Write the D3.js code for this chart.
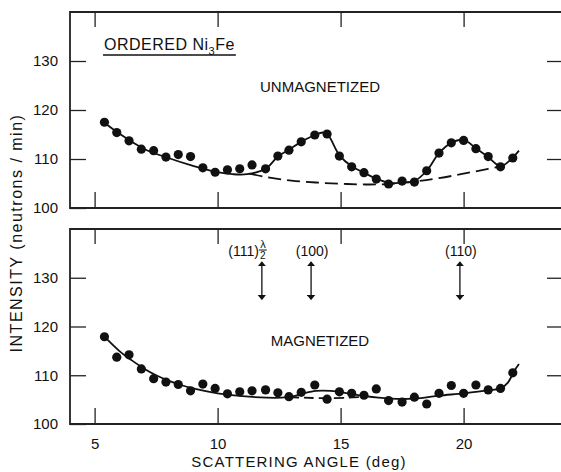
<!DOCTYPE html>
<html>
<head>
<meta charset="utf-8">
<script src="https://cdn.jsdelivr.net/npm/d3@7"></script>
<style>
  body { margin: 0; background: #fff; }
  svg { display: block; font-family: "Liberation Sans", Arial, sans-serif; }
  .tick line { stroke: #222; stroke-width: 1.3; }
  .tick text { font-size: 15px; fill: #111; }
</style>
</head>
<body>
<div class="chart"></div>
<script>
// scattering angle (deg) of each measured point
const angle = [5.4, 5.9, 6.4, 6.9, 7.4, 7.9, 8.4, 8.9, 9.4, 9.9, 10.4, 10.9, 11.4, 11.95,
  12.45, 12.9, 13.4, 13.95, 14.45, 14.95, 15.45, 15.95, 16.45, 16.95, 17.5, 18.0, 18.5,
  19.0, 19.5, 20.0, 20.5, 21.0, 21.5, 22.0];

// intensity (neutrons / min)
const unmagnetized = [117.5, 115.4, 113.7, 112.0, 111.7, 110.4, 110.9, 110.5, 108.2, 107.3,
  107.8, 108.0, 108.8, 108.0, 110.6, 111.8, 113.5, 114.9, 115.1, 110.6, 108.4, 107.2, 105.9,
  104.9, 105.5, 105.3, 107.6, 111.2, 113.3, 113.8, 112.1, 110.5, 108.4, 110.2];
const magnetized = [117.9, 113.7, 114.2, 111.3, 109.3, 108.6, 108.1, 106.8, 108.2, 107.3,
  106.2, 106.6, 106.8, 107.0, 106.4, 105.6, 106.5, 108.0, 105.1, 106.6, 106.3, 105.9, 107.2,
  104.8, 104.5, 105.5, 104.1, 106.3, 107.9, 106.3, 108.0, 107.0, 107.3, 110.5];

// hand drawn curves: [angle, intensity]
const topFit = [[5.4, 117.4], [6.0, 115.2], [7.0, 112.1], [8.0, 110.2], [9.0, 108.6], [10.0, 107.3],
  [10.6, 106.9], [11.2, 106.9], [11.95, 108.0], [12.45, 110.5], [12.9, 111.9], [13.4, 113.5],
  [13.95, 114.9], [14.3, 115.4], [14.5, 114.8], [14.95, 110.8], [15.45, 108.5], [15.95, 107.2],
  [16.45, 106.0], [17.0, 105.1], [17.5, 105.2], [18.0, 105.5], [18.5, 107.6], [19.0, 111.2],
  [19.5, 113.3], [20.0, 113.9], [20.5, 112.2], [21.0, 110.4], [21.5, 108.5], [21.9, 109.8],
  [22.25, 111.7]];
const topBackground = [[11.3, 107.0], [12.0, 106.3], [13.0, 105.6], [14.0, 105.2], [15.0, 104.95],
  [16.0, 104.8], [17.0, 104.9], [18.0, 105.4], [19.0, 106.1], [20.0, 107.0], [21.0, 108.0],
  [21.5, 108.5]];
const bottomFit = [[5.4, 117.9], [6.0, 115.0], [6.5, 113.1], [7.0, 111.4], [7.5, 110.0], [8.0, 108.9],
  [8.5, 108.0], [9.0, 107.3], [10.0, 106.3], [11.0, 105.7], [12.0, 105.4], [12.6, 105.4],
  [13.0, 105.6], [13.5, 106.3], [14.0, 106.8], [14.6, 106.8], [15.3, 106.3], [16.0, 105.7],
  [17.0, 105.2], [18.0, 105.2], [19.0, 105.8], [20.0, 106.3], [21.0, 106.9], [21.5, 107.3],
  [21.8, 108.5], [22.05, 110.8], [22.25, 112.3]];
const bottomLower = [[12.9, 105.5], [13.5, 105.4], [14.3, 105.3], [15.3, 105.4], [16.0, 105.6]];

// reflection markers
const peakAngle = [11.8, 13.8, 19.85];
const peakLabel = ["(111)", "(100)", "(110)"];

const xTicks = [5, 10, 15, 20];
const yTicks = [100, 110, 120, 130];

const W = 561, H = 472;
const left = 70, right = 562;

const svg = d3.select('.chart')
  .append('svg')
  .attr('width', W)
  .attr('height', H);

const x = d3.scaleLinear().domain([4, 24]).range([left, right]);

const panels = [
  {top: 12, bottom: 208, values: unmagnetized, name: 'UNMAGNETIZED', nameY: 92},
  {top: 229, bottom: 424, values: magnetized, name: 'MAGNETIZED', nameY: 346}
];

panels.forEach(p => {
  p.y = d3.scaleLinear().domain([100, 140]).range([p.bottom, p.top]);
  const g = svg.append('g');

  // frame (right side sits off the page)
  g.append('path')
    .attr('d', 'M' + right + ',' + p.top + 'H' + left + 'V' + p.bottom + 'H' + right)
    .attr('fill', 'none')
    .attr('stroke', '#222')
    .attr('stroke-width', 1.8);

  g.append('g')
    .attr('transform', 'translate(0,' + p.bottom + ')')
    .call(d3.axisBottom(x).tickValues(xTicks).tickSize(-16).tickFormat(''))
    .call(a => a.select('.domain').remove());
  g.append('g')
    .attr('transform', 'translate(0,' + p.top + ')')
    .call(d3.axisTop(x).tickValues(xTicks).tickSize(-15).tickFormat(''))
    .call(a => a.select('.domain').remove());
  g.append('g')
    .attr('transform', 'translate(' + left + ',0)')
    .call(d3.axisLeft(p.y).tickValues(yTicks).tickSize(-16).tickPadding(12))
    .call(a => a.select('.domain').remove());
  g.append('g')
    .attr('transform', 'translate(' + (W) + ',0)')
    .call(d3.axisRight(p.y).tickValues(yTicks.slice(1)).tickSize(-14).tickFormat(''))
    .call(a => a.select('.domain').remove());

  g.append('text')
    .attr('x', 320)
    .attr('y', p.nameY)
    .attr('text-anchor', 'middle')
    .attr('font-size', 15)
    .attr('fill', '#111')
    .text(p.name);

  g.selectAll('circle')
    .data(angle.map((a, i) => [a, p.values[i]]))
    .enter()
    .append('circle')
    .attr('cx', d => x(d[0]))
    .attr('cy', d => p.y(d[1]))
    .attr('r', 4.6)
    .attr('fill', '#111');
});

function curve(g, pts, yScale, dash) {
  const line = d3.line()
    .x(d => x(d[0]))
    .y(d => yScale(d[1]))
    .curve(d3.curveCatmullRom);
  g.append('path')
    .attr('d', line(pts))
    .attr('fill', 'none')
    .attr('stroke', '#111')
    .attr('stroke-width', 1.8)
    .attr('stroke-dasharray', dash);
}

curve(svg, topFit, panels[0].y, null);
curve(svg, topBackground, panels[0].y, '13,6');
curve(svg, bottomFit, panels[1].y, null);
curve(svg, bottomLower, panels[1].y, '10,5');

// x tick labels under the lower panel
svg.append('g')
  .attr('transform', 'translate(0,' + panels[1].bottom + ')')
  .call(d3.axisBottom(x).tickValues(xTicks).tickSize(0).tickPadding(14))
  .call(a => a.select('.domain').remove());

// peak markers
const yb = panels[1].y;
const marks = svg.append('g');
svg.append('defs').append('marker')
  .attr('id', 'head')
  .attr('viewBox', '0 0 6 10')
  .attr('refX', 5).attr('refY', 5)
  .attr('markerWidth', 4).attr('markerHeight', 7)
  .attr('orient', 'auto-start-reverse')
  .append('path')
  .attr('d', 'M0,0L6,5L0,10Z')
  .attr('fill', '#111');

peakAngle.forEach((a, i) => {
  marks.append('line')
    .attr('x1', x(a)).attr('x2', x(a))
    .attr('y1', yb(133.2)).attr('y2', yb(125.6))
    .attr('stroke', '#111')
    .attr('stroke-width', 1.3)
    .attr('marker-start', 'url(#head)')
    .attr('marker-end', 'url(#head)');
  marks.append('text')
    .attr('x', i == 0 ? x(a) - 3 : x(a) + 1)
    .attr('y', 256)
    .attr('text-anchor', i == 0 ? 'end' : 'middle')
    .attr('font-size', 14)
    .attr('fill', '#111')
    .text(peakLabel[i]);
});
// lambda over 2 after (111)
const lx = x(peakAngle[0]) + 1;
marks.append('text').attr('x', lx).attr('y', 248).attr('text-anchor', 'middle')
  .attr('font-size', 11).attr('fill', '#111').text('λ');
marks.append('line').attr('x1', lx - 4).attr('x2', lx + 4).attr('y1', 250).attr('y2', 250)
  .attr('stroke', '#111').attr('stroke-width', 1);
marks.append('text').attr('x', lx).attr('y', 259).attr('text-anchor', 'middle')
  .attr('font-size', 10).attr('fill', '#111').text('2');

// sample label, underlined
const lab = svg.append('text')
  .attr('x', 104)
  .attr('y', 50)
  .attr('font-size', 16)
  .attr('letter-spacing', 0.5)
  .attr('fill', '#111');
lab.append('tspan').text('ORDERED  Ni');
lab.append('tspan').attr('font-size', 11).attr('dy', 5).text('3');
lab.append('tspan').attr('dy', -5).text('Fe');
const lw = lab.node().getComputedTextLength();
svg.append('line')
  .attr('x1', 103).attr('x2', 104 + lw + 1)
  .attr('y1', 55).attr('y2', 55)
  .attr('stroke', '#111').attr('stroke-width', 1.4);

// axis titles
svg.append('text')
  .attr('transform', 'translate(22,233) rotate(-90)')
  .attr('text-anchor', 'middle')
  .attr('font-size', 16)
  .attr('letter-spacing', 1.5)
  .attr('fill', '#111')
  .text('INTENSITY (neutrons / min)');

svg.append('text')
  .attr('x', 299)
  .attr('y', 467)
  .attr('text-anchor', 'middle')
  .attr('font-size', 15)
  .attr('letter-spacing', 1.2)
  .attr('fill', '#111')
  .text('SCATTERING ANGLE (deg)');
</script>
</body>
</html>
